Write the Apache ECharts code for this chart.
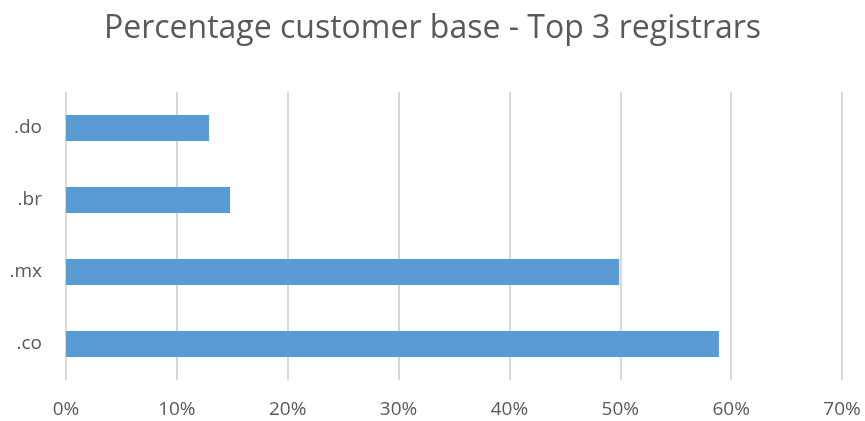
<!DOCTYPE html>
<html>
<head>
<meta charset="utf-8">
<script src="https://cdn.jsdelivr.net/npm/echarts@6/dist/echarts.min.js"></script>
<style>
  html, body { margin: 0; padding: 0; background: #fff; }
  #main { width: 865px; height: 421px; }
</style>
</head>
<body>
<div id="main"></div>
<script>
// data
const categories = [".co", ".mx", ".br", ".do"];
const shares = [58.9, 49.9, 14.8, 12.9];
const tickMax = 70;
const tickStep = 10;

const chart = echarts.init(document.getElementById("main"));

const option = {
  animation: false,
  title: {
    text: "Percentage customer base - Top 3 registrars",
    left: "center",
    top: 8,
    textStyle: {
      color: "#595959",
      fontFamily: "Open Sans",
      fontWeight: "normal",
      fontSize: 32
    }
  },
  grid: {
    left: 66,
    right: 23,
    top: 92,
    bottom: 41
  },
  xAxis: {
    type: "value",
    min: 0,
    max: tickMax,
    interval: tickStep,
    axisLine: { show: false },
    axisTick: { show: false },
    axisLabel: {
      formatter: "{value}%",
      color: "#595959",
      fontFamily: "Open Sans",
      fontSize: 19,
      margin: 20
    },
    splitLine: {
      lineStyle: { color: "#D9D9D9", width: 2 }
    }
  },
  yAxis: {
    type: "category",
    data: categories,
    axisLine: { show: false },
    axisTick: { show: false },
    axisLabel: {
      color: "#595959",
      fontFamily: "Open Sans",
      fontSize: 19,
      margin: 24
    }
  },
  series: [
    {
      type: "bar",
      data: shares,
      barWidth: 26,
      itemStyle: { color: "#5B9BD5" }
    }
  ]
};

chart.setOption(option);
</script>
</body>
</html>
